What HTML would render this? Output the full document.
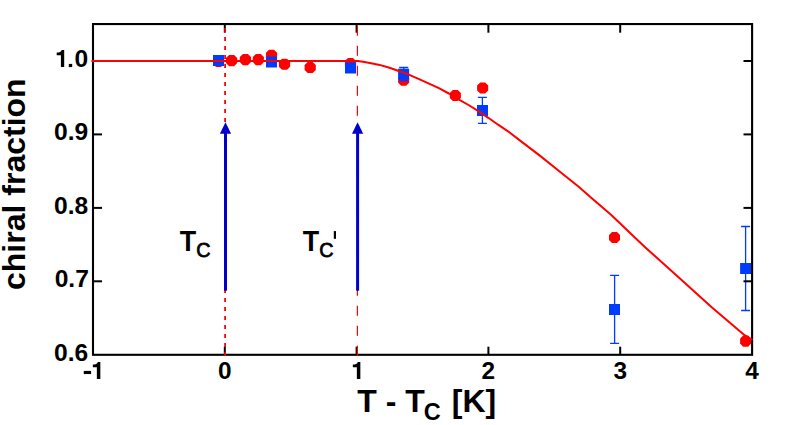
<!DOCTYPE html>
<html><head><meta charset="utf-8">
<style>
html,body{margin:0;padding:0;background:#fff;}
body{width:810px;height:425px;overflow:hidden;font-family:"Liberation Sans",sans-serif;}
svg{display:block;}
text{font-family:"Liberation Sans",sans-serif;font-weight:bold;fill:#000;}
.tk{font-size:24.4px;}
.tky{font-size:24.6px;}
</style></head><body>
<svg width="810" height="425" viewBox="0 0 810 425">
<rect width="810" height="425" fill="#fff"/>
<!-- vertical guide lines -->
<polygon points="216.1,56.0 221.1,56.0 224.2,59.0 224.2,64.0 221.1,67.0 216.1,67.0 213.0,64.0 213.0,59.0" fill="#ff0000" />
<polygon points="229.1,55.1 234.1,55.1 237.2,58.1 237.2,63.1 234.1,66.2 229.1,66.2 226.0,63.1 226.0,58.1" fill="#ff0000" />
<polygon points="242.9,54.1 247.9,54.1 251.0,57.1 251.0,62.1 247.9,65.2 242.9,65.2 239.8,62.1 239.8,57.1" fill="#ff0000" />
<polygon points="255.8,54.1 260.8,54.1 263.9,57.1 263.9,62.1 260.8,65.2 255.8,65.2 252.8,62.1 252.8,57.1" fill="#ff0000" />
<polygon points="269.0,49.8 274.0,49.8 277.1,52.8 277.1,57.8 274.0,60.8 269.0,60.8 265.9,57.8 265.9,52.8" fill="#ff0000" />
<polygon points="282.0,58.7 287.0,58.7 290.1,61.7 290.1,66.7 287.0,69.8 282.0,69.8 278.9,66.7 278.9,61.7" fill="#ff0000" />
<polygon points="307.7,62.0 312.7,62.0 315.8,65.0 315.8,70.0 312.7,73.0 307.7,73.0 304.6,70.0 304.6,65.0" fill="#ff0000" />
<polygon points="348.0,58.0 353.0,58.0 356.1,61.0 356.1,66.0 353.0,69.0 348.0,69.0 344.9,66.0 344.9,61.0" fill="#ff0000" />
<polygon points="401.2,74.7 406.2,74.7 409.2,77.7 409.2,82.7 406.2,85.8 401.2,85.8 398.1,82.7 398.1,77.7" fill="#ff0000" />
<polygon points="452.8,90.0 457.8,90.0 460.9,93.0 460.9,98.0 457.8,101.0 452.8,101.0 449.8,98.0 449.8,93.0" fill="#ff0000" />
<polygon points="480.2,82.5 485.2,82.5 488.2,85.6 488.2,90.6 485.2,93.6 480.2,93.6 477.1,90.6 477.1,85.6" fill="#ff0000" />
<polygon points="612.0,231.9 617.0,231.9 620.0,235.0 620.0,240.0 617.0,243.1 612.0,243.1 609.0,240.0 609.0,235.0" fill="#ff0000" />
<polygon points="743.1,335.6 748.1,335.6 751.1,338.6 751.1,343.6 748.1,346.7 743.1,346.7 740.1,343.6 740.1,338.6" fill="#ff0000" />
<path d="M403.7,67.5 V80.7 M399.2,67.5 H408.2 M399.2,80.7 H408.2" stroke="#003cff" stroke-width="1.3" fill="none"/>
<path d="M482.4,97.4 V123.4 M477.9,97.4 H486.9 M477.9,123.4 H486.9" stroke="#003cff" stroke-width="1.3" fill="none"/>
<path d="M614.6,275.3 V343.4 M610.1,275.3 H619.1 M610.1,343.4 H619.1" stroke="#003cff" stroke-width="1.3" fill="none"/>
<path d="M745.6,226.5 V310.5 M741.1,226.5 H750.1 M741.1,310.5 H750.1" stroke="#003cff" stroke-width="1.3" fill="none"/>
<rect x="213.0" y="55.0" width="11" height="11" fill="#003cff"/>
<rect x="266.0" y="56.5" width="11" height="11" fill="#003cff"/>
<rect x="345.0" y="62.5" width="11" height="11" fill="#003cff"/>
<rect x="398.1" y="68.7" width="11" height="11" fill="#003cff"/>
<rect x="477.0" y="105.0" width="11" height="11" fill="#003cff"/>
<rect x="609.0" y="304.0" width="11" height="11" fill="#003cff"/>
<rect x="740.1" y="263.0" width="11" height="11" fill="#003cff"/>
<!-- curve -->
<!-- frame -->
<rect x="93" y="24.05" width="659.1" height="330.75" fill="none" stroke="#000" stroke-width="2.1"/>
<line x1="224.8" y1="24" x2="224.8" y2="32.7" stroke="#000" stroke-width="2"/>
<line x1="224.8" y1="354.8" x2="224.8" y2="346.7" stroke="#000" stroke-width="2"/>
<line x1="356.6" y1="24" x2="356.6" y2="32.7" stroke="#000" stroke-width="2"/>
<line x1="356.6" y1="354.8" x2="356.6" y2="346.7" stroke="#000" stroke-width="2"/>
<line x1="488.4" y1="24" x2="488.4" y2="32.7" stroke="#000" stroke-width="2"/>
<line x1="488.4" y1="354.8" x2="488.4" y2="346.7" stroke="#000" stroke-width="2"/>
<line x1="620.2" y1="24" x2="620.2" y2="32.7" stroke="#000" stroke-width="2"/>
<line x1="620.2" y1="354.8" x2="620.2" y2="346.7" stroke="#000" stroke-width="2"/>
<line x1="93" y1="281.3" x2="102" y2="281.3" stroke="#000" stroke-width="2"/>
<line x1="752" y1="281.3" x2="743.5" y2="281.3" stroke="#000" stroke-width="2"/>
<line x1="93" y1="207.9" x2="102" y2="207.9" stroke="#000" stroke-width="2"/>
<line x1="752" y1="207.9" x2="743.5" y2="207.9" stroke="#000" stroke-width="2"/>
<line x1="93" y1="134.4" x2="102" y2="134.4" stroke="#000" stroke-width="2"/>
<line x1="752" y1="134.4" x2="743.5" y2="134.4" stroke="#000" stroke-width="2"/>
<line x1="93" y1="61.0" x2="102" y2="61.0" stroke="#000" stroke-width="2"/>
<line x1="752" y1="61.0" x2="743.5" y2="61.0" stroke="#000" stroke-width="2"/>
<line x1="225.1" y1="27.9" x2="225.1" y2="355.9" stroke="#ff0000" stroke-width="1.8" stroke-dasharray="4 5"/>
<line x1="357.4" y1="25.8" x2="357.4" y2="355.8" stroke="#ff0000" stroke-width="1.2" stroke-dasharray="10 10"/>
<!-- arrows -->
<line x1="225.5" y1="290.7" x2="225.5" y2="132" stroke="#0000c8" stroke-width="3"/>
<polygon points="225.5,122.3 219.9,133.8 231.1,133.8" fill="#0000c8"/>
<line x1="357.6" y1="290.7" x2="357.6" y2="132" stroke="#0000c8" stroke-width="3"/>
<polygon points="357.6,122.3 352,133.8 363.2,133.8" fill="#0000c8"/>
<path d="M91.5,61.0 L340.0,61.0 L352.0,61.0 L357.9,61.1 L363.0,61.8 L369.8,62.9 L379.6,64.9 L389.5,67.8 L399.4,71.2 L409.3,74.8 L419.1,79.2 L429.0,83.6 L438.9,88.2 L448.8,93.5 L458.6,99.3 L468.5,105.0 L478.4,111.2 L488.3,117.8 L498.1,124.7 L508.0,131.3 L519.8,140.4 L539.5,155.4 L559.3,171.2 L579.0,187.0 L591.2,197.8 L611.3,215.0 L633.5,236.2 L645.9,247.9 L678.8,277.6 L711.7,307.2 L744.6,335.2 L752.5,340.0" fill="none" stroke="#ff0000" stroke-width="2" stroke-linejoin="round"/>
<text x="224.8" y="378.8" text-anchor="middle" class="tk">0</text>
<text x="488.4" y="378.8" text-anchor="middle" class="tk">2</text>
<text x="620.2" y="378.8" text-anchor="middle" class="tk">3</text>
<text x="752.0" y="378.8" text-anchor="middle" class="tk">4</text>
<path d="M360.35,361.90 L360.35,378.90 L356.85,378.90 L356.85,367.20 L352.85,367.20 L352.85,364.60 Q356.95,364.50 357.85,361.90 Z" fill="#000"/>
<path d="M100.35,361.90 L100.35,378.90 L96.85,378.90 L96.85,367.20 L92.85,367.20 L92.85,364.60 Q96.95,364.50 97.85,361.90 Z" fill="#000"/>
<rect x="83.8" y="370.9" width="7.3" height="3.15" fill="#000"/>
<text x="88.3" y="360.6" text-anchor="end" class="tky">0.6</text>
<text x="88.9" y="287.1" text-anchor="end" class="tky">0.7</text>
<text x="88.3" y="213.7" text-anchor="end" class="tky">0.8</text>
<text x="88.3" y="140.2" text-anchor="end" class="tky">0.9</text>
<path d="M64.20,49.90 L64.20,67.10 L60.90,67.10 L60.90,55.20 L56.70,55.20 L56.70,52.60 Q60.80,52.50 61.70,49.90 Z" fill="#000"/>
<rect x="68.8" y="63.9" width="3.4" height="3.2" fill="#000"/>
<text x="88.1" y="66.8" text-anchor="end" class="tky">0</text>
<!-- labels -->
<text transform="translate(179.7,251.1) scale(0.94,1)" font-size="28.6">T</text>
<text transform="translate(196.3,256.7) scale(0.94,1)" font-size="21" style="font-weight:normal" stroke="#000" stroke-width="0.8">C</text>
<text transform="translate(302.7,251.1) scale(0.94,1)" font-size="28.6">T</text>
<text transform="translate(319.3,256.7) scale(0.94,1)" font-size="21" style="font-weight:normal" stroke="#000" stroke-width="0.8">C</text>
<rect x="333.8" y="231.1" width="2.2" height="7.7" fill="#000"/>
<text x="357.2" y="412.1" font-size="32">T - T<tspan font-size="23.5" dy="7.4" dx="-1">C</tspan><tspan dy="-7.4" dx="2.2" font-size="32"> [K]</tspan></text>
<text transform="translate(24.6,184.2) rotate(-90)" text-anchor="middle" font-size="32">chiral fraction</text>
</svg>
</body></html>
